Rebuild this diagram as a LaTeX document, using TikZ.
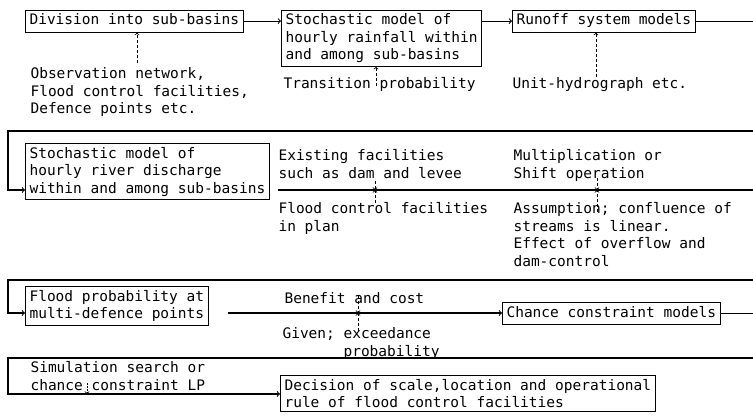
\documentclass[tikz,border=0pt]{standalone}
\usepackage{fontspec}
\newfontfamily\typewr{DejaVu Sans Mono}
\usepackage{tikz}
\usetikzlibrary{arrows,positioning}

\begin{document}
\begin{tikzpicture}[x=1pt,y=-1pt,line width=1.1pt,>=to,
	box/.style={draw,anchor=north west,align=left,inner xsep=4pt,inner ysep=3.5pt,
		font=\typewr\fontsize{14.5}{17.5}\selectfont},
	onebox/.style={box,text depth=4pt},
	txt/.style={anchor=north west,align=left,inner sep=0pt,
		font=\typewr\fontsize{14.5}{17.5}\selectfont},
	hint/.style={->,line width=0.8pt,dash pattern=on 3pt off 2pt}]
	     \useasboundingbox (0,0) rectangle (753,416);

	     % first row
	     \node[onebox] (div) at (25,9.5) {Division into sub-basins};
	     \node[box] (rain) at (281,9.5) {Stochastic model of\\hourly rainfall within\\and among sub-basins};
	     \node[onebox] (runoff) at (512,9.5) {Runoff system models};
	     \node[txt] (obs) at (30,67) {Observation network,\\Flood control facilities,\\Defence points etc.};
	     \node[txt] (trans) at (283,77) {Transition probability};
	     \node[txt] (unit) at (512,77) {Unit-hydrograph etc.};

	     % second row
	     \node[box] (dis) at (25,143) {Stochastic model of\\hourly river discharge\\within and among sub-basins};
	     \node[txt] (exist) at (278,149) {Existing facilities\\such as dam and levee};
	     \node[txt] (fcplan) at (278,202) {Flood control facilities\\in plan};
	     \node[txt] (mult) at (513,149) {Multiplication or\\Shift operation};
	     \node[txt] (assum) at (513,202) {Assumption; confluence of\\streams is linear.\\Effect of overflow and\\dam-control};

	     % third row
	     \node[box] (fp) at (25,286) {Flood probability at\\multi-defence points};
	     \node[onebox] (chance) at (502,302) {Chance constraint models};
	     \node[txt] (benefit) at (284,292) {Benefit and cost};
	     \node[txt] (given) at (282,327) {Given; exceedance\\\hspace*{61pt}probability};

	     % last row
	     \node[txt] (sim) at (30,361) {Simulation search or\\chance constraint LP};
	     \node[box] (dec) at (280,375) {Decision of scale,location and operational\\rule of flood control facilities};

	     \coordinate (e1) at (753,0);
	     \coordinate (r2r) at (753,131);
	     \coordinate (r2l) at (8,131);
	     \coordinate (r2in) at (8,190);
	     \coordinate (l2a) at (278,190);
	     \coordinate (l2b) at (753,190);
	     \coordinate (r3r) at (753,280);
	     \coordinate (r3l) at (8,280);
	     \coordinate (r3in) at (8,313);
	     \coordinate (l3a) at (228,313);
	     \coordinate (r4r) at (753,358);
	     \coordinate (r4l) at (8,358);
	     \coordinate (r4in) at (8,394);

	     \draw[->] (div.east) -- (div.east -| rain.west);
	     \draw[->] (rain.east |- runoff.west) -- (runoff.west);
	     \draw (runoff.east) -- (runoff.east -| e1);
	     \draw[->] (r2r) -- (r2l) -- (r2in) -- (r2in -| dis.west);
	     \draw (l2a) -- (l2b);
	     \draw[->] (r3r) -- (r3l) -- (r3in) -- (r3in -| fp.west);
	     \draw[->] (l3a) -- (l3a -| chance.west);
	     \draw (chance.east) -- (chance.east -| e1);
	     \draw[->] (r4r) -- (r4l) -- (r4in) -- (r4in -| dec.west);

	     % dashed hints
	     \coordinate (oa) at (137,63);
	     \coordinate (ta) at (376,86);
	     \coordinate (ua) at (596,77);
	     \coordinate (x1u) at (375,181);
	     \coordinate (x1d) at (375,203);
	     \coordinate (x2u) at (597,178);
	     \coordinate (x2d) at (597,212);
	     \coordinate (x3u) at (358,296);
	     \coordinate (x3d) at (358,331);
	     \coordinate (sa) at (87,383);
	     \draw[hint] (oa) -- (oa |- div.south);
	     \draw[hint] (ta) -- (ta |- rain.south);
	     \draw[hint] (ua) -- (ua |- runoff.south);
	     \draw[hint] (x1u) -- (x1u |- l2a);
	     \draw[hint] (x1d) -- (x1d |- l2a);
	     \draw[hint] (x2u) -- (x2u |- l2a);
	     \draw[hint] (x2d) -- (x2d |- l2a);
	     \draw[hint] (x3u) -- (x3u |- l3a);
	     \draw[hint] (x3d) -- (x3d |- l3a);
	     \draw[hint,dash pattern=on 1.5pt off 1.5pt] (sa) -- (sa |- r4in);
\end{tikzpicture}
\end{document}
